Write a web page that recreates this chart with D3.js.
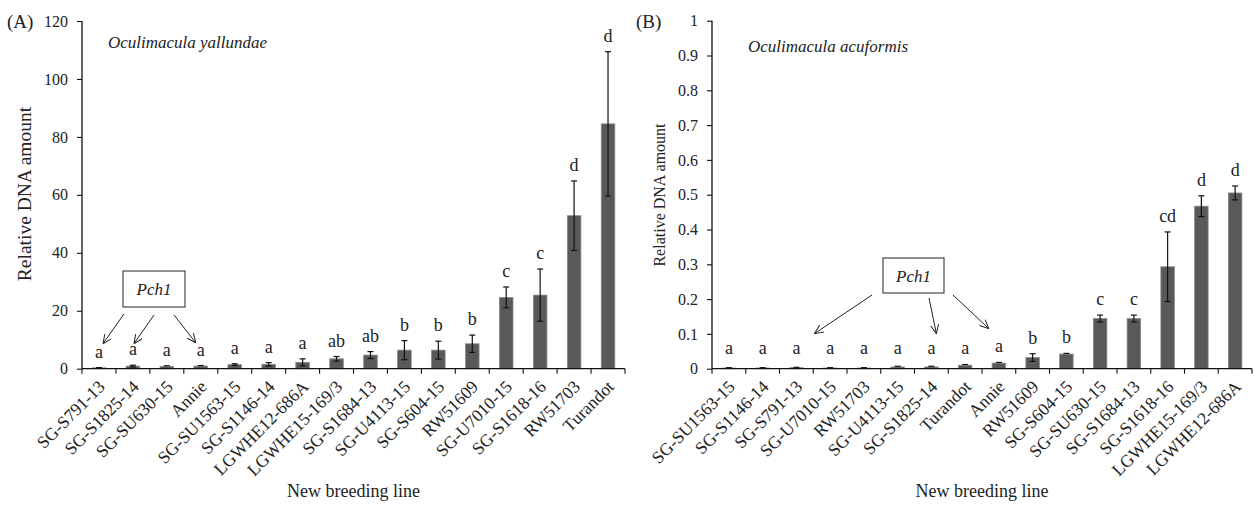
<!DOCTYPE html>
<html>
<head>
<meta charset="utf-8">
<script src="https://cdn.jsdelivr.net/npm/d3@7"></script>
<style>
  html, body { margin: 0; padding: 0; background: #fff; }
  svg { display: block; font-family: "Liberation Serif", "Times New Roman", serif; }
</style>
</head>
<body>
<svg id="chart" width="1254" height="505"></svg>
<script>
// Panel A — O. yallundae
const catsA = ['SG-S791-13', 'SG-S1825-14', 'SG-SU630-15', 'Annie', 'SG-SU1563-15', 'SG-S1146-14',
  'LGWHE12-686A', 'LGWHE15-169/3', 'SG-S1684-13', 'SG-U4113-15', 'SG-S604-15', 'RW51609',
  'SG-U7010-15', 'SG-S1618-16', 'RW51703', 'Turandot'];
const meanA = [0.3, 0.9, 0.8, 0.9, 1.4, 1.5, 2.2, 3.4, 4.7, 6.4, 6.4, 8.6, 24.6, 25.4, 52.8, 84.5];
const errA = [0.1, 0.3, 0.2, 0.2, 0.3, 0.6, 1.2, 0.8, 1.2, 3.3, 3.1, 3.0, 3.6, 9.0, 12.0, 24.9];
const lettersA = ['a', 'a', 'a', 'a', 'a', 'a', 'a', 'ab', 'ab', 'b', 'b', 'b', 'c', 'c', 'd', 'd'];
const ticksA = [0, 20, 40, 60, 80, 100, 120];

// Panel B — O. acuformis
const catsB = ['SG-SU1563-15', 'SG-S1146-14', 'SG-S791-13', 'SG-U7010-15', 'RW51703', 'SG-U4113-15',
  'SG-S1825-14', 'Turandot', 'Annie', 'RW51609', 'SG-S604-15', 'SG-SU630-15', 'SG-S1684-13',
  'SG-S1618-16', 'LGWHE15-169/3', 'LGWHE12-686A'];
const meanB = [0.002, 0.002, 0.003, 0.002, 0.002, 0.005, 0.005, 0.010, 0.016, 0.032, 0.042, 0.144, 0.144, 0.293, 0.467, 0.505];
const errB = [0.001, 0.001, 0.001, 0.001, 0.001, 0.002, 0.002, 0.002, 0.002, 0.011, 0.002, 0.010, 0.010, 0.100, 0.030, 0.020];
const lettersB = ['a', 'a', 'a', 'a', 'a', 'a', 'a', 'a', 'a', 'b', 'b', 'c', 'c', 'cd', 'd', 'd'];
const ticksB = [0, 0.1, 0.2, 0.3, 0.4, 0.5, 0.6, 0.7, 0.8, 0.9, 1];

// lines carrying Pch1 (arrowed in both panels)
const pch1Lines = ['SG-S791-13', 'SG-S1825-14', 'Annie'];

const svg = d3.select('#chart');

// open-V arrowhead
svg.append('defs').append('marker')
  .attr('id', 'vhead').attr('viewBox', '0 0 10 10').attr('refX', 10).attr('refY', 5)
  .attr('markerWidth', 9).attr('markerHeight', 9).attr('markerUnits', 'userSpaceOnUse')
  .attr('orient', 'auto')
  .append('path').attr('d', 'M0,0.5 L10,5 L0,9.5').attr('fill', 'none').attr('stroke', '#222').attr('stroke-width', 1.1);

function panel(o) {
  const g = svg.append('g');
  const x = d3.scaleBand().domain(o.cats).range([o.x0, o.x1]).paddingInner(0.6).paddingOuter(0.3);
  const y = d3.scaleLinear().domain([0, o.ymax]).range([o.y0, o.y1]);
  const step = x.step();

  // y axis
  const ya = g.append('g').attr('transform', `translate(${o.x0},0)`)
    .call(d3.axisLeft(y).tickValues(o.ticks).tickSize(5).tickPadding(9).tickFormat(d3.format('~g')));
  ya.select('.domain').attr('stroke', '#111').attr('stroke-width', 1.3).attr('d', `M0,${o.y0}V${o.y1}`);
  ya.selectAll('.tick line').attr('stroke', '#111').attr('stroke-width', 1.1);
  ya.selectAll('.tick text').attr('font-family', 'Liberation Serif').attr('font-size', 16).attr('fill', '#222');

  // bars
  g.selectAll('rect.bar').data(o.cats).join('rect').attr('class', 'bar')
    .attr('x', d => x(d)).attr('width', x.bandwidth())
    .attr('y', (d, i) => y(o.mean[i])).attr('height', (d, i) => o.y0 - y(o.mean[i]))
    .attr('fill', '#595959').attr('stroke', '#8a8a8a').attr('stroke-width', 0.8);

  // error bars
  const eb = g.append('g').attr('stroke', '#111').attr('stroke-width', 1.2);
  o.cats.forEach((c, i) => {
    const cx = x(c) + x.bandwidth() / 2;
    const lo = y(Math.max(0, o.mean[i] - o.err[i])), hi = y(o.mean[i] + o.err[i]);
    if (Math.abs(lo - hi) < 1.5) {
      eb.append('line').attr('x1', cx - 3).attr('x2', cx + 3).attr('y1', hi).attr('y2', hi);
      return;
    }
    eb.append('line').attr('x1', cx).attr('x2', cx).attr('y1', lo).attr('y2', hi);
    eb.append('line').attr('x1', cx - 3).attr('x2', cx + 3).attr('y1', hi).attr('y2', hi);
    eb.append('line').attr('x1', cx - 3).attr('x2', cx + 3).attr('y1', lo).attr('y2', lo);
  });

  // significance letters
  g.selectAll('text.sig').data(o.cats).join('text').attr('class', 'sig')
    .attr('x', d => x(d) + x.bandwidth() / 2)
    .attr('y', (d, i) => Math.min(y(o.mean[i] + o.err[i]) - 10, o.letterFloor))
    .attr('text-anchor', 'middle').attr('font-size', 18).attr('fill', '#222')
    .text((d, i) => o.letters[i]);

  // x axis with ticks between categories
  g.append('line').attr('x1', o.x0).attr('x2', o.x1).attr('y1', o.y0).attr('y2', o.y0)
    .attr('stroke', '#111').attr('stroke-width', 1.3);
  g.selectAll('line.xt').data(d3.range(o.cats.length + 1)).join('line').attr('class', 'xt')
    .attr('x1', i => o.x0 + i * step).attr('x2', i => o.x0 + i * step)
    .attr('y1', o.y0).attr('y2', o.y0 + 5).attr('stroke', '#111').attr('stroke-width', 1.1);
  g.selectAll('text.cat').data(o.cats).join('text').attr('class', 'cat')
    .attr('transform', d => `translate(${x(d) + x.bandwidth() / 2 + 7},${o.y0 + 19}) rotate(-45)`)
    .attr('text-anchor', 'end').attr('font-size', 17.5).attr('fill', '#222').text(d => d);

  // axis titles
  g.append('text').attr('x', (o.x0 + o.x1) / 2).attr('y', 497).attr('text-anchor', 'middle')
    .attr('font-size', 18).attr('fill', '#222').text('New breeding line');
  g.append('text').attr('transform', `translate(${o.ytx},${o.yty}) rotate(-90)`)
    .attr('text-anchor', 'middle').attr('font-size', o.ytSize).attr('fill', '#222').text('Relative DNA amount');

  // panel tag and species
  g.append('text').attr('x', o.tagX).attr('y', 28).attr('font-size', 19).attr('fill', '#222').text(o.tag);
  g.append('text').attr('x', o.spX).attr('y', o.spY).attr('font-size', 17).attr('font-style', 'italic')
    .attr('fill', '#222').text(o.species);

  // Pch1 callout
  const b = o.box;
  g.append('rect').attr('x', b.x).attr('y', b.y).attr('width', b.w).attr('height', b.h)
    .attr('fill', '#fff').attr('stroke', '#222').attr('stroke-width', 1);
  g.append('text').attr('x', b.x + b.w / 2).attr('y', b.y + b.h / 2 + 6).attr('text-anchor', 'middle')
    .attr('font-size', 17).attr('font-style', 'italic').attr('fill', '#222').text('Pch1');
  pch1Lines.forEach((c, k) => {
    const a = o.arrows[k];
    g.append('line').attr('x1', a.sx).attr('y1', a.sy)
      .attr('x2', x(c) + x.bandwidth() / 2 + a.dx).attr('y2', o.y0 - a.up)
      .attr('stroke', '#222').attr('stroke-width', 1).attr('marker-end', 'url(#vhead)');
  });
}

panel({
  cats: catsA, mean: meanA, err: errA, letters: lettersA, ticks: ticksA, ymax: 120,
  x0: 82, x1: 625, y0: 368.7, y1: 21, letterFloor: 361,
  ytx: 31, yty: 194, ytSize: 19.5, tag: '(A)', tagX: 7, species: 'Oculimacula yallundae', spX: 108, spY: 48,
  box: { x: 123, y: 271, w: 62, h: 36 },
  arrows: [{ sx: 124, sy: 314, dx: 4, up: 25 }, { sx: 154, sy: 315, dx: 1, up: 25 }, { sx: 174, sy: 315, dx: -5, up: 26 }]
});

panel({
  cats: catsB, mean: meanB, err: errB, letters: lettersB, ticks: ticksB, ymax: 1,
  x0: 712, x1: 1252, y0: 368.7, y1: 20.7, letterFloor: 354,
  ytx: 665, yty: 195, ytSize: 16, tag: '(B)', tagX: 636, species: 'Oculimacula acuformis', spX: 748, spY: 52,
  box: { x: 883, y: 258, w: 61, h: 35 },
  arrows: [{ sx: 872, sy: 295, dx: 18, up: 35 }, { sx: 929, sy: 298, dx: 5, up: 35 }, { sx: 953, sy: 295, dx: -10, up: 40 }]
});
</script>
</body>
</html>
